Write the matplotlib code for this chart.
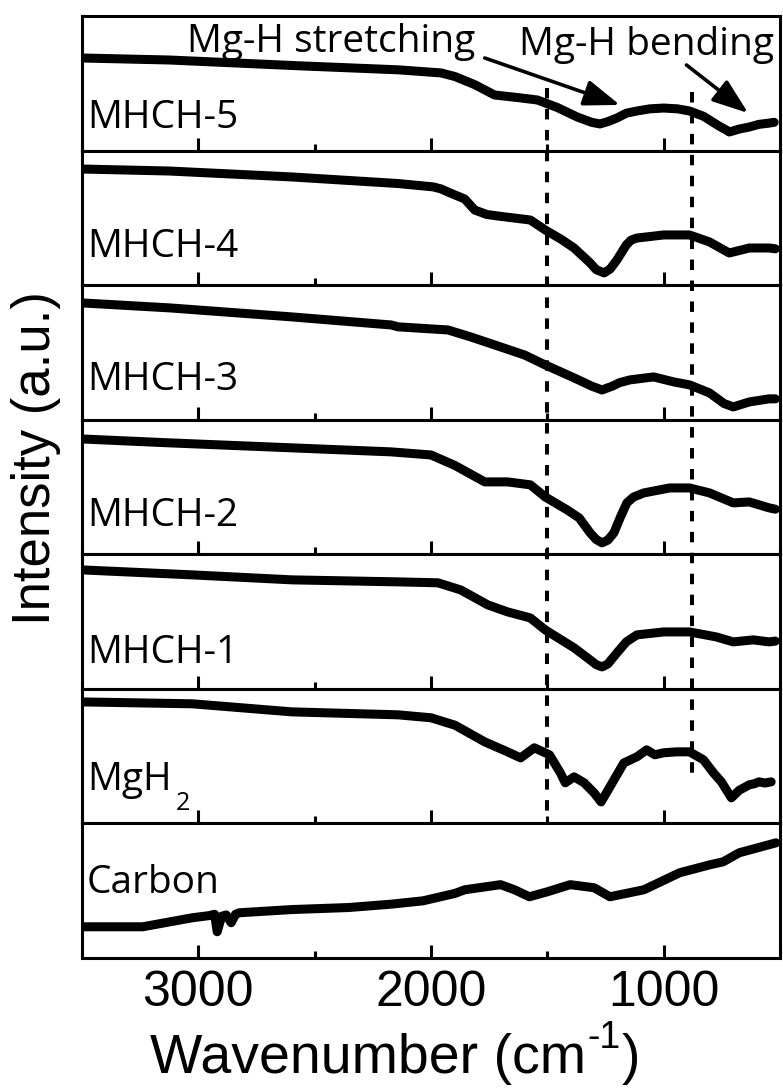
# FTIR spectra of MgH2 / carbon / MHCH composites, stacked panels

import matplotlib
matplotlib.use('Agg')
import matplotlib.pyplot as plt
from matplotlib import transforms

# panel labels, top to bottom
labels = ['MHCH-5', 'MHCH-4', 'MHCH-3', 'MHCH-2', 'MHCH-1', 'MgH', 'Carbon']

# wavenumber (cm-1) and intensity (a.u., 0-100 of panel height)
mhch5_x = [3500, 3124, 2568, 2141, 1957, 1897, 1812, 1727, 1628, 1543, 1457, 1372, 1310,
           1274, 1240, 1201, 1160, 1115, 1060, 1000, 940, 889, 829, 803, 760, 731, 718,
           675, 632, 590, 547, 525]
mhch5_y = [68.8, 67.3, 63.0, 60.0, 57.7, 55.0, 49.0, 41.3, 39.4, 37.6, 32.0, 25.0, 21.0,
           19.8, 21.5, 24.2, 27.8, 29.4, 31.0, 31.6, 31.0, 29.4, 25.5, 22.7, 18.0, 15.3,
           13.8, 16.0, 17.5, 19.5, 20.4, 21.0]

mhch4_x = [3500, 3124, 2598, 2141, 1990, 1957, 1927, 1855, 1812, 1760, 1714, 1573, 1509,
           1440, 1385, 1316, 1290, 1256, 1230, 1201, 1160, 1140, 1115, 1000, 889, 803,
           718, 632, 547, 520]
mhch4_y = [86.3, 84.8, 80.4, 75.5, 73.0, 71.5, 69.2, 64.0, 55.8, 52.5, 51.4, 48.4, 41.0,
           34.0, 27.6, 16.5, 11.5, 9.1, 12.0, 18.7, 30.0, 33.5, 35.0, 37.3, 37.3, 32.1,
           23.9, 27.6, 27.6, 27.0]

mhch3_x = [3500, 3124, 2598, 2171, 2141, 1927, 1829, 1727, 1598, 1509, 1385, 1310, 1265,
           1220, 1190, 1145, 1043, 957, 889, 803, 740, 701, 632, 547, 520]
mhch3_y = [86.8, 83.1, 76.4, 70.4, 69.0, 66.7, 61.5, 55.6, 48.1, 40.7, 31.1, 25.0, 22.1,
           25.0, 27.5, 29.6, 31.8, 28.1, 25.9, 19.9, 12.0, 9.5, 13.2, 15.5, 15.5]

mhch2_x = [3500, 3124, 2598, 2171, 2000, 1897, 1769, 1671, 1573, 1509, 1415, 1363, 1316,
           1290, 1265, 1240, 1214, 1185, 1158, 1130, 1085, 974, 889, 803, 701, 632, 547,
           520]
mhch2_y = [85.7, 82.8, 79.1, 76.1, 73.8, 66.0, 53.8, 53.8, 51.6, 42.6, 33.0, 27.0, 15.9,
           11.0, 8.5, 10.5, 15.9, 28.0, 38.2, 42.5, 45.6, 49.3, 49.3, 45.6, 38.2, 38.9,
           34.5, 33.5]

mhch1_x = [3500, 3026, 2598, 2141, 1970, 1872, 1756, 1671, 1573, 1509, 1385, 1316, 1290,
           1265, 1240, 1201, 1160, 1115, 1000, 889, 774, 701, 615, 547, 520]
mhch1_y = [88.4, 84.7, 81.0, 79.5, 78.8, 73.5, 62.4, 57.2, 52.7, 43.8, 30.5, 21.5, 18.0,
           16.3, 18.5, 26.7, 35.0, 40.1, 42.3, 42.3, 38.6, 34.9, 36.4, 34.9, 35.5]

mgh2_x = [3500, 3026, 2598, 2141, 2000, 1897, 1769, 1671, 1615, 1556, 1491, 1444, 1423,
          1385, 1342, 1299, 1269, 1231, 1171, 1115, 1073, 1038, 1000, 944, 889, 829,
          786, 752, 709, 675, 650, 632, 610, 590, 565, 538]
mgh2_y = [90.3, 88.9, 82.9, 80.7, 78.5, 73.0, 60.6, 53.2, 48.7, 56.2, 51.0, 37.6, 30.2,
          34.6, 30.2, 22.7, 16.0, 27.2, 45.0, 49.5, 54.7, 51.0, 52.5, 53.2, 53.2, 47.3,
          37.6, 30.9, 19.0, 24.7, 27.0, 28.7, 29.5, 30.9, 30.0, 30.9]

carbon_x = [3500, 3239, 3026, 2953, 2930, 2919, 2900, 2880, 2859, 2840, 2825, 2598, 2355,
            2171, 2034, 1897, 1855, 1701, 1641, 1577, 1500, 1402, 1299, 1231, 1085, 932,
            803, 744, 675, 517]
carbon_y = [23.2, 23.2, 29.9, 31.5, 32.5, 19.5, 31.0, 32.0, 26.2, 32.5, 33.6, 36.0, 37.5,
            40.0, 42.5, 48.0, 50.7, 54.5, 50.7, 45.5, 49.2, 54.5, 52.2, 45.5, 50.7, 63.3,
            69.2, 71.5, 78.2, 85.6]

spectra = [(mhch5_x, mhch5_y), (mhch4_x, mhch4_y), (mhch3_x, mhch3_y), (mhch2_x, mhch2_y),
           (mhch1_x, mhch1_y), (mgh2_x, mgh2_y), (carbon_x, carbon_y)]

# label height above panel bottom (fraction of panel)
label_y = [0.17, 0.21, 0.22, 0.21, 0.19, 0.245, 0.48]

W, H = 783, 1090
fig = plt.figure(figsize=(W / 100, H / 100), dpi=100)

left, right, top, bottom = 82, 780, 16, 958
ph = (bottom - top) / 7.0

axes = []
for i, (xs, ys) in enumerate(spectra):
    y0 = bottom - (7 - i) * ph
    ax = fig.add_axes([left / W, 1 - (y0 + ph) / H, (right - left) / W, ph / H])
    ax.plot(xs, ys, color='black', lw=6.5, solid_capstyle='round', solid_joinstyle='round')
    ax.set_xlim(3500, 500)
    ax.set_ylim(0, 100)
    ax.set_yticks([])
    ax.set_xticks([3000, 2000, 1000])
    ax.set_xticks([3500, 2500, 1500, 500], minor=True)
    ax.tick_params(axis='x', which='major', direction='in', length=9.5, width=2.2, top=False)
    ax.tick_params(axis='x', which='minor', direction='in', length=5, width=2.2, top=False)
    for s in ax.spines.values():
        s.set_linewidth(2.2)
    if i < 6:
        ax.tick_params(axis='x', labelbottom=False)
    else:
        ax.tick_params(axis='x', labelsize=36, pad=9)
        for t in ax.get_xticklabels():
            t.set_family('Liberation Sans')
    ax.text(0.007, label_y[i], labels[i], transform=ax.transAxes, fontsize=28,
            family='Open Sans', ha='left', va='baseline')
    axes.append(ax)

# subscript of MgH2
axes[5].text(0.135, 0.10, '2', transform=axes[5].transAxes, fontsize=18,
             family='Open Sans', ha='left', va='baseline')

# dashed reference lines across the panels
tr = transforms.blended_transform_factory(axes[-1].transData, fig.transFigure)
dash = dict(color='black', lw=2.9, linestyle=(0, (2.6, 2.6)), dash_capstyle='butt')
fig.add_artist(plt.Line2D([1500, 1500], [1 - 88 / H, 1 - 812 / H], transform=tr, **dash))
fig.add_artist(plt.Line2D([880, 880], [1 - 92 / H, 1 - 778 / H], transform=tr, **dash))

# annotations
fig.text(187 / W, 1 - 52 / H, 'Mg-H stretching', fontsize=28, family='Open Sans',
         ha='left', va='baseline')
fig.text(519 / W, 1 - 55 / H, 'Mg-H bending', fontsize=28, family='Open Sans',
         ha='left', va='baseline')
arrow = dict(arrowstyle='-|>,head_length=1.1,head_width=0.4', color='black', lw=2.6,
             mutation_scale=20, shrinkA=0, shrinkB=0)
axes[0].annotate('', xy=(1188, 33.9), xytext=(1769, 68.8), arrowprops=arrow,
                 annotation_clip=False)
axes[0].annotate('', xy=(637, 27.9), xytext=(902, 63.6), arrowprops=arrow,
                 annotation_clip=False)

fig.text(36 / W, 1 - 458 / H, 'Intensity (a.u.)', rotation=90, fontsize=38,
         family='Liberation Sans', ha='center', va='center')

# x label with superscript built from plain text pieces
xl = fig.text(150 / W, 1 - 1073 / H, 'Wavenumber (cm', fontsize=40,
              family='Liberation Sans', ha='left', va='baseline')
sup = axes[-1].annotate('-1', xy=(1, 1), xycoords=xl, xytext=(1, 9),
                        textcoords='offset points', fontsize=27, family='Liberation Sans',
                        ha='left', va='top', annotation_clip=False)
axes[-1].annotate(')', xy=(1, 0), xycoords=(sup, xl), xytext=(1, 0),
                  textcoords='offset points', fontsize=40, family='Liberation Sans',
                  ha='left', va='bottom', annotation_clip=False)

fig.savefig('out.png', dpi=100)
